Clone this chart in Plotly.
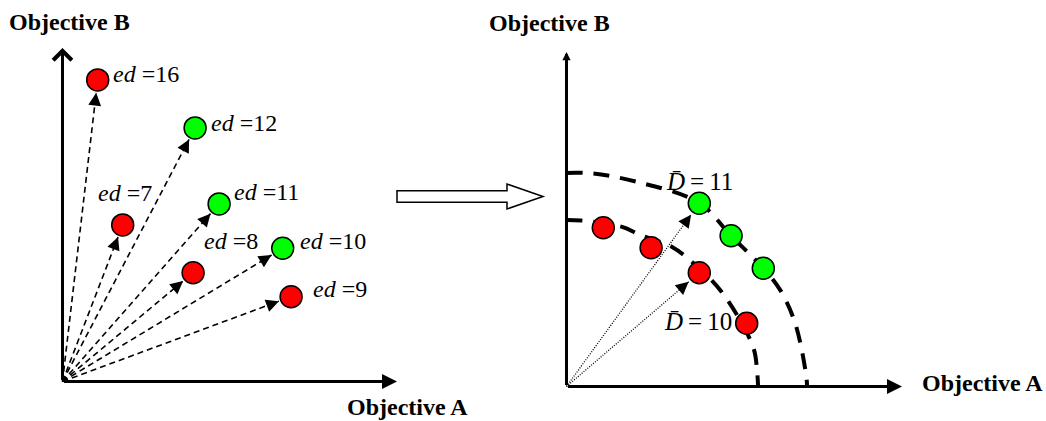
import math
import plotly.graph_objects as go

# ---------------- data ----------------
# Left panel: solutions in (Objective A, Objective B) space with their ed values
left_ed = [16, 12, 7, 11, 8, 10, 9]
left_a = [1.76, 6.63, 3.01, 7.83, 6.53, 11.01, 11.43]
left_b = [15.08, 12.68, 7.83, 8.88, 5.44, 6.66, 4.24]
left_front = ["red", "green", "red", "green", "red", "green", "red"]

# Right panel: the two fronts
green_a = [6.64, 8.23, 9.84]
green_b = [9.16, 7.54, 5.91]
red_a = [1.84, 4.23, 6.64, 9.01]
red_b = [7.94, 6.94, 5.69, 3.16]
d_values = [11, 10]
d_target_a = [6.64, 6.64]
d_target_b = [9.16, 5.69]

# Front curves (outer through green front, inner through red front)
outer_a = [0.0, 1.33, 3.53, 6.63, 8.23, 9.83, 10.68, 11.43, 11.98, 12.03]
outer_b = [10.68, 10.65, 10.23, 9.18, 7.53, 5.93, 4.83, 3.18, 0.58, 0.0]
inner_a = [0.0, 0.73, 2.78, 3.68, 5.28, 6.03, 7.68, 9.33, 9.53, 9.58]
inner_b = [8.33, 8.30, 7.98, 7.58, 6.98, 6.43, 4.83, 1.98, 0.73, 0.0]

# ---------------- styling ----------------
W, H = 1046, 421
SCALE = 20.0                    # pixels per objective unit
LEFT_ORIGIN = (62.5, 381.5)     # pixel position of the left panel origin
RIGHT_ORIGIN = (566.5, 386.5)   # pixel position of the right panel origin
FONT = "Liberation Serif, Times New Roman, serif"
RED = "#ff0000"
GREEN = "#00ff00"
GAP_LEFT = 13 / SCALE           # arrow tips stop at the circle edge
GAP_RIGHT = 14 / SCALE
HEAD_BACK = 9 / SCALE           # length of the short segment carrying each head

fig = go.Figure()
annotations = []


def tip_of(a, b, r):
    d = math.hypot(a, b)
    return a * (1 - r / d), b * (1 - r / d)


def ray(a, b, gap, xref, yref, line):
    """Ray from the origin towards (a, b), ending in a filled arrowhead."""
    ta, tb = tip_of(a, b, gap)
    fig.add_trace(go.Scatter(
        x=[0, ta], y=[0, tb], mode="lines", line=line,
        xaxis=xref, yaxis=yref, hoverinfo="skip", showlegend=False))
    ba, bb = tip_of(a, b, gap + HEAD_BACK)
    annotations.append(dict(
        x=ta, y=tb, ax=ba, ay=bb, xref=xref, yref=yref, axref=xref, ayref=yref,
        text="", showarrow=True, arrowhead=2, arrowsize=1.6, arrowwidth=1.6,
        arrowcolor="black", standoff=0))


# dashed rays (left panel)
for a, b in zip(left_a, left_b):
    ray(a, b, GAP_LEFT, "x", "y", dict(color="black", width=1.6, dash="6px,4px"))

# left points
fig.add_trace(go.Scatter(
    x=left_a, y=left_b, mode="markers",
    marker=dict(size=22, color=[RED if c == "red" else GREEN for c in left_front],
                line=dict(color="black", width=1.5)),
    xaxis="x", yaxis="y", hoverinfo="skip", showlegend=False))

# right panel: front curves
for fa, fb in ((outer_a, outer_b), (inner_a, inner_b)):
    fig.add_trace(go.Scatter(
        x=fa, y=fb, mode="lines",
        line=dict(color="black", width=4, dash="16px,11px", shape="spline"),
        xaxis="x2", yaxis="y2", hoverinfo="skip", showlegend=False))

# dotted rays to the D-bar solutions
for a, b in zip(d_target_a, d_target_b):
    ray(a, b, GAP_RIGHT, "x2", "y2", dict(color="black", width=1.3, dash="1px,1.5px"))

fig.add_trace(go.Scatter(
    x=red_a, y=red_b, mode="markers",
    marker=dict(size=22, color=RED, line=dict(color="black", width=1.5)),
    xaxis="x2", yaxis="y2", hoverinfo="skip", showlegend=False))
fig.add_trace(go.Scatter(
    x=green_a, y=green_b, mode="markers",
    marker=dict(size=22, color=GREEN, line=dict(color="black", width=1.5)),
    xaxis="x2", yaxis="y2", hoverinfo="skip", showlegend=False))


def axis_arrow(xref, yref, x, y, head, size):
    annotations.append(dict(
        x=x, y=y, ax=0, ay=0, xref=xref, yref=yref, axref=xref, ayref=yref,
        text="", showarrow=True, arrowhead=head, arrowsize=size,
        arrowwidth=3, arrowcolor="black", standoff=0))


# axes drawn as arrows from the origin
axis_arrow("x", "y", 0, (LEFT_ORIGIN[1] - 48) / SCALE, 4, 1.2)
axis_arrow("x", "y", (397 - LEFT_ORIGIN[0]) / SCALE, 0, 2, 1.0)
axis_arrow("x2", "y2", 0, (RIGHT_ORIGIN[1] - 52) / SCALE, 2, 0.55)
axis_arrow("x2", "y2", (902 - RIGHT_ORIGIN[0]) / SCALE, 0, 2, 1.0)

# ed labels (left edge, vertical middle) in left panel units
ed_label_a = [2.43, 7.33, 1.66, 8.48, 6.98, 11.78, 12.44]
ed_label_b = [15.38, 12.93, 9.43, 9.48, 7.03, 7.03, 4.65]
for v, la, lb in zip(left_ed, ed_label_a, ed_label_b):
    annotations.append(dict(
        x=la, y=lb, xref="x", yref="y", xanchor="left", yanchor="middle",
        text=f"<i>ed</i> ={v}", showarrow=False,
        font=dict(family=FONT, size=24, color="black")))

# D-bar labels in right panel units
d_label_a = [4.88, 4.76]
d_label_b = [10.23, 3.25]
for v, la, lb in zip(d_values, d_label_a, d_label_b):
    annotations.append(dict(
        x=la, y=lb, xref="x2", yref="y2", xanchor="left", yanchor="middle",
        text=f"<i>D\u0304</i>\u2009=\u2009{v}", showarrow=False,
        font=dict(family=FONT, size=25, color="black")))

# axis titles (paper position from pixel centres)
for text, cx, cy in (("Objective B", 69.5, 22), ("Objective B", 549.5, 23),
                     ("Objective A", 407, 407), ("Objective A", 982, 383)):
    annotations.append(dict(
        x=cx / W, y=1 - cy / H, xref="paper", yref="paper",
        xanchor="center", yanchor="middle", text=f"<b>{text}</b>",
        showarrow=False, font=dict(family=FONT, size=24, color="black")))


# hollow block arrow between the panels
def px(x, y):
    return f"{x / W:.5f},{1 - y / H:.5f}"


block = [(397, 190.7), (507, 190.7), (507, 184), (543, 196.5),
         (507, 209), (507, 202.3), (397, 202.3)]
path = "M" + " L".join(px(x, y) for x, y in block) + " Z"

fig.update_layout(
    width=W, height=H, margin=dict(l=0, r=0, t=0, b=0),
    paper_bgcolor="white", plot_bgcolor="white",
    xaxis=dict(range=[-LEFT_ORIGIN[0] / SCALE, (W - LEFT_ORIGIN[0]) / SCALE],
               visible=False, domain=[0, 1]),
    yaxis=dict(range=[-(H - LEFT_ORIGIN[1]) / SCALE, LEFT_ORIGIN[1] / SCALE],
               visible=False, domain=[0, 1]),
    xaxis2=dict(range=[-RIGHT_ORIGIN[0] / SCALE, (W - RIGHT_ORIGIN[0]) / SCALE],
                visible=False, overlaying="x", anchor="y2"),
    yaxis2=dict(range=[-(H - RIGHT_ORIGIN[1]) / SCALE, RIGHT_ORIGIN[1] / SCALE],
                visible=False, overlaying="y", anchor="x2"),
    annotations=annotations,
    shapes=[dict(type="path", path=path, xref="paper", yref="paper",
                 line=dict(color="black", width=1.5), fillcolor="white")],
    showlegend=False,
)

fig.write_html("out.html")
